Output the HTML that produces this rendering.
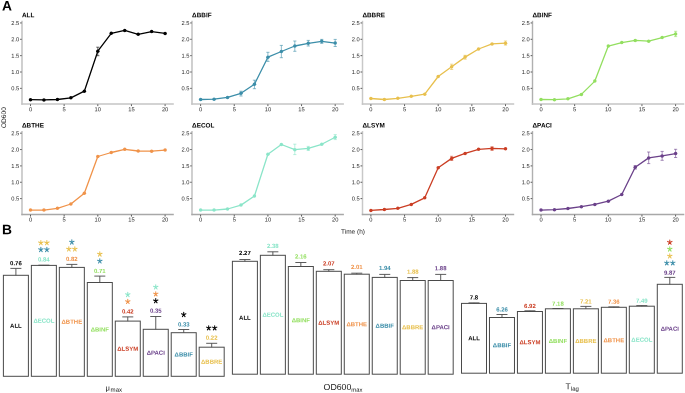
<!DOCTYPE html><html><head><meta charset="utf-8"><style>html,body{margin:0;padding:0;background:#fff;width:685px;height:393px;overflow:hidden}svg{display:block;will-change:transform}text{font-family:"Liberation Sans",sans-serif;text-rendering:geometricPrecision}</style></head><body>
<svg width="685" height="393" viewBox="0 0 685 393">
<rect width="685" height="393" fill="#fff"/>
<text transform="rotate(0.06 1.9 10.6)" x="1.9" y="10.6" font-size="13.8" font-weight="bold" fill="#000">A</text>
<text transform="rotate(0.06 1.9 234.2)" x="1.9" y="234.2" font-size="13.8" font-weight="bold" fill="#000">B</text>
<text transform="translate(5.9,117.6) rotate(-89.94)" text-anchor="middle" font-size="6.6" fill="#1a1a1a">OD600</text>
<text transform="rotate(0.06 353 233.7)" x="353" y="233.7" text-anchor="middle" font-size="6.5" fill="#1a1a1a">Time (h)</text>
<line x1="22.00" y1="20.80" x2="22.00" y2="104.80" stroke="#c4c4c4" stroke-width="1.6"/>
<line x1="21.30" y1="104.00" x2="173.80" y2="104.00" stroke="#c4c4c4" stroke-width="1.6"/>
<line x1="20.10" y1="22.95" x2="21.70" y2="22.95" stroke="#333333" stroke-width="0.8"/>
<text transform="rotate(0.06 19.30 24.95)" x="19.30" y="24.95" text-anchor="end" font-size="5.75" fill="#2a2a2a">2.5</text>
<line x1="20.10" y1="39.30" x2="21.70" y2="39.30" stroke="#333333" stroke-width="0.8"/>
<text transform="rotate(0.06 19.30 41.30)" x="19.30" y="41.30" text-anchor="end" font-size="5.75" fill="#2a2a2a">2.0</text>
<line x1="20.10" y1="55.65" x2="21.70" y2="55.65" stroke="#333333" stroke-width="0.8"/>
<text transform="rotate(0.06 19.30 57.65)" x="19.30" y="57.65" text-anchor="end" font-size="5.75" fill="#2a2a2a">1.5</text>
<line x1="20.10" y1="72.00" x2="21.70" y2="72.00" stroke="#333333" stroke-width="0.8"/>
<text transform="rotate(0.06 19.30 74.00)" x="19.30" y="74.00" text-anchor="end" font-size="5.75" fill="#2a2a2a">1.0</text>
<line x1="20.10" y1="88.35" x2="21.70" y2="88.35" stroke="#333333" stroke-width="0.8"/>
<text transform="rotate(0.06 19.30 90.35)" x="19.30" y="90.35" text-anchor="end" font-size="5.75" fill="#2a2a2a">0.5</text>
<line x1="30.50" y1="104.30" x2="30.50" y2="106.10" stroke="#333333" stroke-width="0.8"/>
<text transform="rotate(0.06 30.50 111.20)" x="30.50" y="111.20" text-anchor="middle" font-size="5.75" fill="#2a2a2a">0</text>
<line x1="64.15" y1="104.30" x2="64.15" y2="106.10" stroke="#333333" stroke-width="0.8"/>
<text transform="rotate(0.06 64.15 111.20)" x="64.15" y="111.20" text-anchor="middle" font-size="5.75" fill="#2a2a2a">5</text>
<line x1="97.80" y1="104.30" x2="97.80" y2="106.10" stroke="#333333" stroke-width="0.8"/>
<text transform="rotate(0.06 97.80 111.20)" x="97.80" y="111.20" text-anchor="middle" font-size="5.75" fill="#2a2a2a">10</text>
<line x1="131.45" y1="104.30" x2="131.45" y2="106.10" stroke="#333333" stroke-width="0.8"/>
<text transform="rotate(0.06 131.45 111.20)" x="131.45" y="111.20" text-anchor="middle" font-size="5.75" fill="#2a2a2a">15</text>
<line x1="165.10" y1="104.30" x2="165.10" y2="106.10" stroke="#333333" stroke-width="0.8"/>
<text transform="rotate(0.06 165.10 111.20)" x="165.10" y="111.20" text-anchor="middle" font-size="5.75" fill="#2a2a2a">20</text>
<text transform="rotate(0.06 22.00 17.20)" x="22.00" y="17.20" font-size="6.4" font-weight="bold" fill="#000">ALL</text>
<polyline points="30.50,99.70 43.96,99.90 57.42,99.50 70.88,97.80 84.34,91.20 97.80,51.20 111.26,33.30 124.72,30.40 138.18,34.30 151.64,31.60 165.10,33.40" fill="none" stroke="#000000" stroke-width="1.3" stroke-linejoin="round"/>
<path d="M96.20,47.20H99.40M97.80,47.20V55.70M96.20,55.70H99.40" stroke="#000000" stroke-width="0.7" fill="none" opacity="0.85"/>
<circle cx="30.50" cy="99.70" r="1.75" fill="#000000"/>
<circle cx="43.96" cy="99.90" r="1.75" fill="#000000"/>
<circle cx="57.42" cy="99.50" r="1.75" fill="#000000"/>
<circle cx="70.88" cy="97.80" r="1.75" fill="#000000"/>
<circle cx="84.34" cy="91.20" r="1.75" fill="#000000"/>
<circle cx="97.80" cy="51.20" r="1.75" fill="#000000"/>
<circle cx="111.26" cy="33.30" r="1.75" fill="#000000"/>
<circle cx="124.72" cy="30.40" r="1.75" fill="#000000"/>
<circle cx="138.18" cy="34.30" r="1.75" fill="#000000"/>
<circle cx="151.64" cy="31.60" r="1.75" fill="#000000"/>
<circle cx="165.10" cy="33.40" r="1.75" fill="#000000"/>
<line x1="192.00" y1="20.80" x2="192.00" y2="104.80" stroke="#c4c4c4" stroke-width="1.6"/>
<line x1="191.30" y1="104.00" x2="343.90" y2="104.00" stroke="#c4c4c4" stroke-width="1.6"/>
<line x1="190.20" y1="22.95" x2="191.70" y2="22.95" stroke="#333333" stroke-width="0.8"/>
<text transform="rotate(0.06 189.40 24.95)" x="189.40" y="24.95" text-anchor="end" font-size="5.75" fill="#2a2a2a">2.5</text>
<line x1="190.20" y1="39.30" x2="191.70" y2="39.30" stroke="#333333" stroke-width="0.8"/>
<text transform="rotate(0.06 189.40 41.30)" x="189.40" y="41.30" text-anchor="end" font-size="5.75" fill="#2a2a2a">2.0</text>
<line x1="190.20" y1="55.65" x2="191.70" y2="55.65" stroke="#333333" stroke-width="0.8"/>
<text transform="rotate(0.06 189.40 57.65)" x="189.40" y="57.65" text-anchor="end" font-size="5.75" fill="#2a2a2a">1.5</text>
<line x1="190.20" y1="72.00" x2="191.70" y2="72.00" stroke="#333333" stroke-width="0.8"/>
<text transform="rotate(0.06 189.40 74.00)" x="189.40" y="74.00" text-anchor="end" font-size="5.75" fill="#2a2a2a">1.0</text>
<line x1="190.20" y1="88.35" x2="191.70" y2="88.35" stroke="#333333" stroke-width="0.8"/>
<text transform="rotate(0.06 189.40 90.35)" x="189.40" y="90.35" text-anchor="end" font-size="5.75" fill="#2a2a2a">0.5</text>
<line x1="200.60" y1="104.30" x2="200.60" y2="106.10" stroke="#333333" stroke-width="0.8"/>
<text transform="rotate(0.06 200.60 111.20)" x="200.60" y="111.20" text-anchor="middle" font-size="5.75" fill="#2a2a2a">0</text>
<line x1="234.25" y1="104.30" x2="234.25" y2="106.10" stroke="#333333" stroke-width="0.8"/>
<text transform="rotate(0.06 234.25 111.20)" x="234.25" y="111.20" text-anchor="middle" font-size="5.75" fill="#2a2a2a">5</text>
<line x1="267.90" y1="104.30" x2="267.90" y2="106.10" stroke="#333333" stroke-width="0.8"/>
<text transform="rotate(0.06 267.90 111.20)" x="267.90" y="111.20" text-anchor="middle" font-size="5.75" fill="#2a2a2a">10</text>
<line x1="301.55" y1="104.30" x2="301.55" y2="106.10" stroke="#333333" stroke-width="0.8"/>
<text transform="rotate(0.06 301.55 111.20)" x="301.55" y="111.20" text-anchor="middle" font-size="5.75" fill="#2a2a2a">15</text>
<line x1="335.20" y1="104.30" x2="335.20" y2="106.10" stroke="#333333" stroke-width="0.8"/>
<text transform="rotate(0.06 335.20 111.20)" x="335.20" y="111.20" text-anchor="middle" font-size="5.75" fill="#2a2a2a">20</text>
<text transform="rotate(0.06 192.10 17.20)" x="192.10" y="17.20" font-size="6.4" font-weight="bold" fill="#000">ΔBBIF</text>
<polyline points="200.60,99.50 214.06,99.20 227.52,97.40 240.98,93.30 254.44,84.30 267.90,57.20 281.36,51.50 294.82,46.00 308.28,43.30 321.74,41.30 335.20,43.10" fill="none" stroke="#3c8ea9" stroke-width="1.3" stroke-linejoin="round"/>
<path d="M239.38,91.20H242.58M240.98,91.20V96.00M239.38,96.00H242.58" stroke="#3c8ea9" stroke-width="0.7" fill="none" opacity="0.85"/>
<path d="M252.84,80.20H256.04M254.44,80.20V88.70M252.84,88.70H256.04" stroke="#3c8ea9" stroke-width="0.7" fill="none" opacity="0.85"/>
<path d="M266.30,52.30H269.50M267.90,52.30V61.40M266.30,61.40H269.50" stroke="#3c8ea9" stroke-width="0.7" fill="none" opacity="0.85"/>
<path d="M279.76,45.40H282.96M281.36,45.40V57.70M279.76,57.70H282.96" stroke="#3c8ea9" stroke-width="0.7" fill="none" opacity="0.85"/>
<path d="M293.22,41.00H296.42M294.82,41.00V51.30M293.22,51.30H296.42" stroke="#3c8ea9" stroke-width="0.7" fill="none" opacity="0.85"/>
<path d="M306.68,40.40H309.88M308.28,40.40V46.00M306.68,46.00H309.88" stroke="#3c8ea9" stroke-width="0.7" fill="none" opacity="0.85"/>
<path d="M320.14,39.40H323.34M321.74,39.40V43.40M320.14,43.40H323.34" stroke="#3c8ea9" stroke-width="0.7" fill="none" opacity="0.85"/>
<path d="M333.60,39.40H336.80M335.20,39.40V46.50M333.60,46.50H336.80" stroke="#3c8ea9" stroke-width="0.7" fill="none" opacity="0.85"/>
<circle cx="200.60" cy="99.50" r="1.75" fill="#3c8ea9"/>
<circle cx="214.06" cy="99.20" r="1.75" fill="#3c8ea9"/>
<circle cx="227.52" cy="97.40" r="1.75" fill="#3c8ea9"/>
<circle cx="240.98" cy="93.30" r="1.75" fill="#3c8ea9"/>
<circle cx="254.44" cy="84.30" r="1.75" fill="#3c8ea9"/>
<circle cx="267.90" cy="57.20" r="1.75" fill="#3c8ea9"/>
<circle cx="281.36" cy="51.50" r="1.75" fill="#3c8ea9"/>
<circle cx="294.82" cy="46.00" r="1.75" fill="#3c8ea9"/>
<circle cx="308.28" cy="43.30" r="1.75" fill="#3c8ea9"/>
<circle cx="321.74" cy="41.30" r="1.75" fill="#3c8ea9"/>
<circle cx="335.20" cy="43.10" r="1.75" fill="#3c8ea9"/>
<line x1="362.50" y1="20.80" x2="362.50" y2="104.80" stroke="#c8c8c8" stroke-width="1.5"/>
<line x1="361.80" y1="104.00" x2="514.20" y2="104.00" stroke="#c4c4c4" stroke-width="1.6"/>
<line x1="360.50" y1="22.95" x2="362.20" y2="22.95" stroke="#333333" stroke-width="0.8"/>
<text transform="rotate(0.06 359.70 24.95)" x="359.70" y="24.95" text-anchor="end" font-size="5.75" fill="#2a2a2a">2.5</text>
<line x1="360.50" y1="39.30" x2="362.20" y2="39.30" stroke="#333333" stroke-width="0.8"/>
<text transform="rotate(0.06 359.70 41.30)" x="359.70" y="41.30" text-anchor="end" font-size="5.75" fill="#2a2a2a">2.0</text>
<line x1="360.50" y1="55.65" x2="362.20" y2="55.65" stroke="#333333" stroke-width="0.8"/>
<text transform="rotate(0.06 359.70 57.65)" x="359.70" y="57.65" text-anchor="end" font-size="5.75" fill="#2a2a2a">1.5</text>
<line x1="360.50" y1="72.00" x2="362.20" y2="72.00" stroke="#333333" stroke-width="0.8"/>
<text transform="rotate(0.06 359.70 74.00)" x="359.70" y="74.00" text-anchor="end" font-size="5.75" fill="#2a2a2a">1.0</text>
<line x1="360.50" y1="88.35" x2="362.20" y2="88.35" stroke="#333333" stroke-width="0.8"/>
<text transform="rotate(0.06 359.70 90.35)" x="359.70" y="90.35" text-anchor="end" font-size="5.75" fill="#2a2a2a">0.5</text>
<line x1="370.90" y1="104.30" x2="370.90" y2="106.10" stroke="#333333" stroke-width="0.8"/>
<text transform="rotate(0.06 370.90 111.20)" x="370.90" y="111.20" text-anchor="middle" font-size="5.75" fill="#2a2a2a">0</text>
<line x1="404.55" y1="104.30" x2="404.55" y2="106.10" stroke="#333333" stroke-width="0.8"/>
<text transform="rotate(0.06 404.55 111.20)" x="404.55" y="111.20" text-anchor="middle" font-size="5.75" fill="#2a2a2a">5</text>
<line x1="438.20" y1="104.30" x2="438.20" y2="106.10" stroke="#333333" stroke-width="0.8"/>
<text transform="rotate(0.06 438.20 111.20)" x="438.20" y="111.20" text-anchor="middle" font-size="5.75" fill="#2a2a2a">10</text>
<line x1="471.85" y1="104.30" x2="471.85" y2="106.10" stroke="#333333" stroke-width="0.8"/>
<text transform="rotate(0.06 471.85 111.20)" x="471.85" y="111.20" text-anchor="middle" font-size="5.75" fill="#2a2a2a">15</text>
<line x1="505.50" y1="104.30" x2="505.50" y2="106.10" stroke="#333333" stroke-width="0.8"/>
<text transform="rotate(0.06 505.50 111.20)" x="505.50" y="111.20" text-anchor="middle" font-size="5.75" fill="#2a2a2a">20</text>
<text transform="rotate(0.06 362.40 17.20)" x="362.40" y="17.20" font-size="6.4" font-weight="bold" fill="#000">ΔBBRE</text>
<polyline points="370.90,98.50 384.36,99.50 397.82,98.30 411.28,96.30 424.74,94.20 438.20,76.50 451.66,66.70 465.12,57.10 478.58,49.00 492.04,43.90 505.50,43.20" fill="none" stroke="#e8c04e" stroke-width="1.3" stroke-linejoin="round"/>
<path d="M450.06,64.20H453.26M451.66,64.20V69.50M450.06,69.50H453.26" stroke="#e8c04e" stroke-width="0.7" fill="none" opacity="0.85"/>
<path d="M463.52,55.30H466.72M465.12,55.30V59.20M463.52,59.20H466.72" stroke="#e8c04e" stroke-width="0.7" fill="none" opacity="0.85"/>
<path d="M503.90,41.00H507.10M505.50,41.00V45.10M503.90,45.10H507.10" stroke="#e8c04e" stroke-width="0.7" fill="none" opacity="0.85"/>
<circle cx="370.90" cy="98.50" r="1.75" fill="#e8c04e"/>
<circle cx="384.36" cy="99.50" r="1.75" fill="#e8c04e"/>
<circle cx="397.82" cy="98.30" r="1.75" fill="#e8c04e"/>
<circle cx="411.28" cy="96.30" r="1.75" fill="#e8c04e"/>
<circle cx="424.74" cy="94.20" r="1.75" fill="#e8c04e"/>
<circle cx="438.20" cy="76.50" r="1.75" fill="#e8c04e"/>
<circle cx="451.66" cy="66.70" r="1.75" fill="#e8c04e"/>
<circle cx="465.12" cy="57.10" r="1.75" fill="#e8c04e"/>
<circle cx="478.58" cy="49.00" r="1.75" fill="#e8c04e"/>
<circle cx="492.04" cy="43.90" r="1.75" fill="#e8c04e"/>
<circle cx="505.50" cy="43.20" r="1.75" fill="#e8c04e"/>
<line x1="532.50" y1="20.80" x2="532.50" y2="104.80" stroke="#b0b0b0" stroke-width="1.4"/>
<line x1="531.80" y1="104.00" x2="684.30" y2="104.00" stroke="#c4c4c4" stroke-width="1.6"/>
<line x1="530.60" y1="22.95" x2="532.20" y2="22.95" stroke="#333333" stroke-width="0.8"/>
<text transform="rotate(0.06 529.80 24.95)" x="529.80" y="24.95" text-anchor="end" font-size="5.75" fill="#2a2a2a">2.5</text>
<line x1="530.60" y1="39.30" x2="532.20" y2="39.30" stroke="#333333" stroke-width="0.8"/>
<text transform="rotate(0.06 529.80 41.30)" x="529.80" y="41.30" text-anchor="end" font-size="5.75" fill="#2a2a2a">2.0</text>
<line x1="530.60" y1="55.65" x2="532.20" y2="55.65" stroke="#333333" stroke-width="0.8"/>
<text transform="rotate(0.06 529.80 57.65)" x="529.80" y="57.65" text-anchor="end" font-size="5.75" fill="#2a2a2a">1.5</text>
<line x1="530.60" y1="72.00" x2="532.20" y2="72.00" stroke="#333333" stroke-width="0.8"/>
<text transform="rotate(0.06 529.80 74.00)" x="529.80" y="74.00" text-anchor="end" font-size="5.75" fill="#2a2a2a">1.0</text>
<line x1="530.60" y1="88.35" x2="532.20" y2="88.35" stroke="#333333" stroke-width="0.8"/>
<text transform="rotate(0.06 529.80 90.35)" x="529.80" y="90.35" text-anchor="end" font-size="5.75" fill="#2a2a2a">0.5</text>
<line x1="541.00" y1="104.30" x2="541.00" y2="106.10" stroke="#333333" stroke-width="0.8"/>
<text transform="rotate(0.06 541.00 111.20)" x="541.00" y="111.20" text-anchor="middle" font-size="5.75" fill="#2a2a2a">0</text>
<line x1="574.65" y1="104.30" x2="574.65" y2="106.10" stroke="#333333" stroke-width="0.8"/>
<text transform="rotate(0.06 574.65 111.20)" x="574.65" y="111.20" text-anchor="middle" font-size="5.75" fill="#2a2a2a">5</text>
<line x1="608.30" y1="104.30" x2="608.30" y2="106.10" stroke="#333333" stroke-width="0.8"/>
<text transform="rotate(0.06 608.30 111.20)" x="608.30" y="111.20" text-anchor="middle" font-size="5.75" fill="#2a2a2a">10</text>
<line x1="641.95" y1="104.30" x2="641.95" y2="106.10" stroke="#333333" stroke-width="0.8"/>
<text transform="rotate(0.06 641.95 111.20)" x="641.95" y="111.20" text-anchor="middle" font-size="5.75" fill="#2a2a2a">15</text>
<line x1="675.60" y1="104.30" x2="675.60" y2="106.10" stroke="#333333" stroke-width="0.8"/>
<text transform="rotate(0.06 675.60 111.20)" x="675.60" y="111.20" text-anchor="middle" font-size="5.75" fill="#2a2a2a">20</text>
<text transform="rotate(0.06 532.50 17.20)" x="532.50" y="17.20" font-size="6.4" font-weight="bold" fill="#000">ΔBINF</text>
<polyline points="541.00,99.50 554.46,99.70 567.92,98.80 581.38,94.40 594.84,81.10 608.30,46.10 621.76,42.60 635.22,40.40 648.68,41.20 662.14,37.60 675.60,33.90" fill="none" stroke="#93df60" stroke-width="1.3" stroke-linejoin="round"/>
<path d="M674.00,31.30H677.20M675.60,31.30V36.60M674.00,36.60H677.20" stroke="#93df60" stroke-width="0.7" fill="none" opacity="0.85"/>
<circle cx="541.00" cy="99.50" r="1.75" fill="#93df60"/>
<circle cx="554.46" cy="99.70" r="1.75" fill="#93df60"/>
<circle cx="567.92" cy="98.80" r="1.75" fill="#93df60"/>
<circle cx="581.38" cy="94.40" r="1.75" fill="#93df60"/>
<circle cx="594.84" cy="81.10" r="1.75" fill="#93df60"/>
<circle cx="608.30" cy="46.10" r="1.75" fill="#93df60"/>
<circle cx="621.76" cy="42.60" r="1.75" fill="#93df60"/>
<circle cx="635.22" cy="40.40" r="1.75" fill="#93df60"/>
<circle cx="648.68" cy="41.20" r="1.75" fill="#93df60"/>
<circle cx="662.14" cy="37.60" r="1.75" fill="#93df60"/>
<circle cx="675.60" cy="33.90" r="1.75" fill="#93df60"/>
<line x1="22.00" y1="131.05" x2="22.00" y2="215.20" stroke="#c4c4c4" stroke-width="1.6"/>
<line x1="21.30" y1="214.50" x2="173.80" y2="214.50" stroke="#a8a8a8" stroke-width="1.4"/>
<line x1="20.10" y1="133.20" x2="21.70" y2="133.20" stroke="#333333" stroke-width="0.8"/>
<text transform="rotate(0.06 19.30 135.20)" x="19.30" y="135.20" text-anchor="end" font-size="5.75" fill="#2a2a2a">2.5</text>
<line x1="20.10" y1="149.55" x2="21.70" y2="149.55" stroke="#333333" stroke-width="0.8"/>
<text transform="rotate(0.06 19.30 151.55)" x="19.30" y="151.55" text-anchor="end" font-size="5.75" fill="#2a2a2a">2.0</text>
<line x1="20.10" y1="165.90" x2="21.70" y2="165.90" stroke="#333333" stroke-width="0.8"/>
<text transform="rotate(0.06 19.30 167.90)" x="19.30" y="167.90" text-anchor="end" font-size="5.75" fill="#2a2a2a">1.5</text>
<line x1="20.10" y1="182.25" x2="21.70" y2="182.25" stroke="#333333" stroke-width="0.8"/>
<text transform="rotate(0.06 19.30 184.25)" x="19.30" y="184.25" text-anchor="end" font-size="5.75" fill="#2a2a2a">1.0</text>
<line x1="20.10" y1="198.60" x2="21.70" y2="198.60" stroke="#333333" stroke-width="0.8"/>
<text transform="rotate(0.06 19.30 200.60)" x="19.30" y="200.60" text-anchor="end" font-size="5.75" fill="#2a2a2a">0.5</text>
<line x1="30.50" y1="214.80" x2="30.50" y2="216.60" stroke="#333333" stroke-width="0.8"/>
<text transform="rotate(0.06 30.50 221.45)" x="30.50" y="221.45" text-anchor="middle" font-size="5.75" fill="#2a2a2a">0</text>
<line x1="64.15" y1="214.80" x2="64.15" y2="216.60" stroke="#333333" stroke-width="0.8"/>
<text transform="rotate(0.06 64.15 221.45)" x="64.15" y="221.45" text-anchor="middle" font-size="5.75" fill="#2a2a2a">5</text>
<line x1="97.80" y1="214.80" x2="97.80" y2="216.60" stroke="#333333" stroke-width="0.8"/>
<text transform="rotate(0.06 97.80 221.45)" x="97.80" y="221.45" text-anchor="middle" font-size="5.75" fill="#2a2a2a">10</text>
<line x1="131.45" y1="214.80" x2="131.45" y2="216.60" stroke="#333333" stroke-width="0.8"/>
<text transform="rotate(0.06 131.45 221.45)" x="131.45" y="221.45" text-anchor="middle" font-size="5.75" fill="#2a2a2a">15</text>
<line x1="165.10" y1="214.80" x2="165.10" y2="216.60" stroke="#333333" stroke-width="0.8"/>
<text transform="rotate(0.06 165.10 221.45)" x="165.10" y="221.45" text-anchor="middle" font-size="5.75" fill="#2a2a2a">20</text>
<text transform="rotate(0.06 22.00 127.45)" x="22.00" y="127.45" font-size="6.4" font-weight="bold" fill="#000">ΔBTHE</text>
<polyline points="30.50,210.10 43.96,210.10 57.42,208.30 70.88,204.00 84.34,193.20 97.80,156.50 111.26,152.50 124.72,149.30 138.18,151.00 151.64,151.20 165.10,150.10" fill="none" stroke="#f0934a" stroke-width="1.3" stroke-linejoin="round"/>
<circle cx="30.50" cy="210.10" r="1.75" fill="#f0934a"/>
<circle cx="43.96" cy="210.10" r="1.75" fill="#f0934a"/>
<circle cx="57.42" cy="208.30" r="1.75" fill="#f0934a"/>
<circle cx="70.88" cy="204.00" r="1.75" fill="#f0934a"/>
<circle cx="84.34" cy="193.20" r="1.75" fill="#f0934a"/>
<circle cx="97.80" cy="156.50" r="1.75" fill="#f0934a"/>
<circle cx="111.26" cy="152.50" r="1.75" fill="#f0934a"/>
<circle cx="124.72" cy="149.30" r="1.75" fill="#f0934a"/>
<circle cx="138.18" cy="151.00" r="1.75" fill="#f0934a"/>
<circle cx="151.64" cy="151.20" r="1.75" fill="#f0934a"/>
<circle cx="165.10" cy="150.10" r="1.75" fill="#f0934a"/>
<line x1="192.00" y1="131.05" x2="192.00" y2="215.20" stroke="#c4c4c4" stroke-width="1.6"/>
<line x1="191.30" y1="214.50" x2="343.90" y2="214.50" stroke="#a8a8a8" stroke-width="1.4"/>
<line x1="190.20" y1="133.20" x2="191.70" y2="133.20" stroke="#333333" stroke-width="0.8"/>
<text transform="rotate(0.06 189.40 135.20)" x="189.40" y="135.20" text-anchor="end" font-size="5.75" fill="#2a2a2a">2.5</text>
<line x1="190.20" y1="149.55" x2="191.70" y2="149.55" stroke="#333333" stroke-width="0.8"/>
<text transform="rotate(0.06 189.40 151.55)" x="189.40" y="151.55" text-anchor="end" font-size="5.75" fill="#2a2a2a">2.0</text>
<line x1="190.20" y1="165.90" x2="191.70" y2="165.90" stroke="#333333" stroke-width="0.8"/>
<text transform="rotate(0.06 189.40 167.90)" x="189.40" y="167.90" text-anchor="end" font-size="5.75" fill="#2a2a2a">1.5</text>
<line x1="190.20" y1="182.25" x2="191.70" y2="182.25" stroke="#333333" stroke-width="0.8"/>
<text transform="rotate(0.06 189.40 184.25)" x="189.40" y="184.25" text-anchor="end" font-size="5.75" fill="#2a2a2a">1.0</text>
<line x1="190.20" y1="198.60" x2="191.70" y2="198.60" stroke="#333333" stroke-width="0.8"/>
<text transform="rotate(0.06 189.40 200.60)" x="189.40" y="200.60" text-anchor="end" font-size="5.75" fill="#2a2a2a">0.5</text>
<line x1="200.60" y1="214.80" x2="200.60" y2="216.60" stroke="#333333" stroke-width="0.8"/>
<text transform="rotate(0.06 200.60 221.45)" x="200.60" y="221.45" text-anchor="middle" font-size="5.75" fill="#2a2a2a">0</text>
<line x1="234.25" y1="214.80" x2="234.25" y2="216.60" stroke="#333333" stroke-width="0.8"/>
<text transform="rotate(0.06 234.25 221.45)" x="234.25" y="221.45" text-anchor="middle" font-size="5.75" fill="#2a2a2a">5</text>
<line x1="267.90" y1="214.80" x2="267.90" y2="216.60" stroke="#333333" stroke-width="0.8"/>
<text transform="rotate(0.06 267.90 221.45)" x="267.90" y="221.45" text-anchor="middle" font-size="5.75" fill="#2a2a2a">10</text>
<line x1="301.55" y1="214.80" x2="301.55" y2="216.60" stroke="#333333" stroke-width="0.8"/>
<text transform="rotate(0.06 301.55 221.45)" x="301.55" y="221.45" text-anchor="middle" font-size="5.75" fill="#2a2a2a">15</text>
<line x1="335.20" y1="214.80" x2="335.20" y2="216.60" stroke="#333333" stroke-width="0.8"/>
<text transform="rotate(0.06 335.20 221.45)" x="335.20" y="221.45" text-anchor="middle" font-size="5.75" fill="#2a2a2a">20</text>
<text transform="rotate(0.06 192.10 127.45)" x="192.10" y="127.45" font-size="6.4" font-weight="bold" fill="#000">ΔECOL</text>
<polyline points="200.60,210.10 214.06,210.10 227.52,209.00 240.98,205.10 254.44,196.00 267.90,154.20 281.36,144.50 294.82,149.70 308.28,148.40 321.74,144.30 335.20,137.20" fill="none" stroke="#8be5c9" stroke-width="1.3" stroke-linejoin="round"/>
<path d="M293.22,144.20H296.42M294.82,144.20V154.60M293.22,154.60H296.42" stroke="#8be5c9" stroke-width="0.7" fill="none" opacity="0.85"/>
<path d="M306.68,146.40H309.88M308.28,146.40V150.50M306.68,150.50H309.88" stroke="#8be5c9" stroke-width="0.7" fill="none" opacity="0.85"/>
<path d="M333.60,134.60H336.80M335.20,134.60V139.60M333.60,139.60H336.80" stroke="#8be5c9" stroke-width="0.7" fill="none" opacity="0.85"/>
<circle cx="200.60" cy="210.10" r="1.75" fill="#8be5c9"/>
<circle cx="214.06" cy="210.10" r="1.75" fill="#8be5c9"/>
<circle cx="227.52" cy="209.00" r="1.75" fill="#8be5c9"/>
<circle cx="240.98" cy="205.10" r="1.75" fill="#8be5c9"/>
<circle cx="254.44" cy="196.00" r="1.75" fill="#8be5c9"/>
<circle cx="267.90" cy="154.20" r="1.75" fill="#8be5c9"/>
<circle cx="281.36" cy="144.50" r="1.75" fill="#8be5c9"/>
<circle cx="294.82" cy="149.70" r="1.75" fill="#8be5c9"/>
<circle cx="308.28" cy="148.40" r="1.75" fill="#8be5c9"/>
<circle cx="321.74" cy="144.30" r="1.75" fill="#8be5c9"/>
<circle cx="335.20" cy="137.20" r="1.75" fill="#8be5c9"/>
<line x1="362.50" y1="131.05" x2="362.50" y2="215.20" stroke="#c8c8c8" stroke-width="1.5"/>
<line x1="361.80" y1="214.50" x2="514.20" y2="214.50" stroke="#a8a8a8" stroke-width="1.4"/>
<line x1="360.50" y1="133.20" x2="362.20" y2="133.20" stroke="#333333" stroke-width="0.8"/>
<text transform="rotate(0.06 359.70 135.20)" x="359.70" y="135.20" text-anchor="end" font-size="5.75" fill="#2a2a2a">2.5</text>
<line x1="360.50" y1="149.55" x2="362.20" y2="149.55" stroke="#333333" stroke-width="0.8"/>
<text transform="rotate(0.06 359.70 151.55)" x="359.70" y="151.55" text-anchor="end" font-size="5.75" fill="#2a2a2a">2.0</text>
<line x1="360.50" y1="165.90" x2="362.20" y2="165.90" stroke="#333333" stroke-width="0.8"/>
<text transform="rotate(0.06 359.70 167.90)" x="359.70" y="167.90" text-anchor="end" font-size="5.75" fill="#2a2a2a">1.5</text>
<line x1="360.50" y1="182.25" x2="362.20" y2="182.25" stroke="#333333" stroke-width="0.8"/>
<text transform="rotate(0.06 359.70 184.25)" x="359.70" y="184.25" text-anchor="end" font-size="5.75" fill="#2a2a2a">1.0</text>
<line x1="360.50" y1="198.60" x2="362.20" y2="198.60" stroke="#333333" stroke-width="0.8"/>
<text transform="rotate(0.06 359.70 200.60)" x="359.70" y="200.60" text-anchor="end" font-size="5.75" fill="#2a2a2a">0.5</text>
<line x1="370.90" y1="214.80" x2="370.90" y2="216.60" stroke="#333333" stroke-width="0.8"/>
<text transform="rotate(0.06 370.90 221.45)" x="370.90" y="221.45" text-anchor="middle" font-size="5.75" fill="#2a2a2a">0</text>
<line x1="404.55" y1="214.80" x2="404.55" y2="216.60" stroke="#333333" stroke-width="0.8"/>
<text transform="rotate(0.06 404.55 221.45)" x="404.55" y="221.45" text-anchor="middle" font-size="5.75" fill="#2a2a2a">5</text>
<line x1="438.20" y1="214.80" x2="438.20" y2="216.60" stroke="#333333" stroke-width="0.8"/>
<text transform="rotate(0.06 438.20 221.45)" x="438.20" y="221.45" text-anchor="middle" font-size="5.75" fill="#2a2a2a">10</text>
<line x1="471.85" y1="214.80" x2="471.85" y2="216.60" stroke="#333333" stroke-width="0.8"/>
<text transform="rotate(0.06 471.85 221.45)" x="471.85" y="221.45" text-anchor="middle" font-size="5.75" fill="#2a2a2a">15</text>
<line x1="505.50" y1="214.80" x2="505.50" y2="216.60" stroke="#333333" stroke-width="0.8"/>
<text transform="rotate(0.06 505.50 221.45)" x="505.50" y="221.45" text-anchor="middle" font-size="5.75" fill="#2a2a2a">20</text>
<text transform="rotate(0.06 362.40 127.45)" x="362.40" y="127.45" font-size="6.4" font-weight="bold" fill="#000">ΔLSYM</text>
<polyline points="370.90,210.40 384.36,209.50 397.82,208.30 411.28,204.40 424.74,197.80 438.20,167.70 451.66,158.40 465.12,153.40 478.58,149.30 492.04,148.40 505.50,148.80" fill="none" stroke="#cb3e24" stroke-width="1.3" stroke-linejoin="round"/>
<path d="M450.06,156.30H453.26M451.66,156.30V160.50M450.06,160.50H453.26" stroke="#cb3e24" stroke-width="0.7" fill="none" opacity="0.85"/>
<path d="M490.44,146.80H493.64M492.04,146.80V150.40M490.44,150.40H493.64" stroke="#cb3e24" stroke-width="0.7" fill="none" opacity="0.85"/>
<circle cx="370.90" cy="210.40" r="1.75" fill="#cb3e24"/>
<circle cx="384.36" cy="209.50" r="1.75" fill="#cb3e24"/>
<circle cx="397.82" cy="208.30" r="1.75" fill="#cb3e24"/>
<circle cx="411.28" cy="204.40" r="1.75" fill="#cb3e24"/>
<circle cx="424.74" cy="197.80" r="1.75" fill="#cb3e24"/>
<circle cx="438.20" cy="167.70" r="1.75" fill="#cb3e24"/>
<circle cx="451.66" cy="158.40" r="1.75" fill="#cb3e24"/>
<circle cx="465.12" cy="153.40" r="1.75" fill="#cb3e24"/>
<circle cx="478.58" cy="149.30" r="1.75" fill="#cb3e24"/>
<circle cx="492.04" cy="148.40" r="1.75" fill="#cb3e24"/>
<circle cx="505.50" cy="148.80" r="1.75" fill="#cb3e24"/>
<line x1="532.50" y1="131.05" x2="532.50" y2="215.20" stroke="#b0b0b0" stroke-width="1.4"/>
<line x1="531.80" y1="214.50" x2="684.30" y2="214.50" stroke="#a8a8a8" stroke-width="1.4"/>
<line x1="530.60" y1="133.20" x2="532.20" y2="133.20" stroke="#333333" stroke-width="0.8"/>
<text transform="rotate(0.06 529.80 135.20)" x="529.80" y="135.20" text-anchor="end" font-size="5.75" fill="#2a2a2a">2.5</text>
<line x1="530.60" y1="149.55" x2="532.20" y2="149.55" stroke="#333333" stroke-width="0.8"/>
<text transform="rotate(0.06 529.80 151.55)" x="529.80" y="151.55" text-anchor="end" font-size="5.75" fill="#2a2a2a">2.0</text>
<line x1="530.60" y1="165.90" x2="532.20" y2="165.90" stroke="#333333" stroke-width="0.8"/>
<text transform="rotate(0.06 529.80 167.90)" x="529.80" y="167.90" text-anchor="end" font-size="5.75" fill="#2a2a2a">1.5</text>
<line x1="530.60" y1="182.25" x2="532.20" y2="182.25" stroke="#333333" stroke-width="0.8"/>
<text transform="rotate(0.06 529.80 184.25)" x="529.80" y="184.25" text-anchor="end" font-size="5.75" fill="#2a2a2a">1.0</text>
<line x1="530.60" y1="198.60" x2="532.20" y2="198.60" stroke="#333333" stroke-width="0.8"/>
<text transform="rotate(0.06 529.80 200.60)" x="529.80" y="200.60" text-anchor="end" font-size="5.75" fill="#2a2a2a">0.5</text>
<line x1="541.00" y1="214.80" x2="541.00" y2="216.60" stroke="#333333" stroke-width="0.8"/>
<text transform="rotate(0.06 541.00 221.45)" x="541.00" y="221.45" text-anchor="middle" font-size="5.75" fill="#2a2a2a">0</text>
<line x1="574.65" y1="214.80" x2="574.65" y2="216.60" stroke="#333333" stroke-width="0.8"/>
<text transform="rotate(0.06 574.65 221.45)" x="574.65" y="221.45" text-anchor="middle" font-size="5.75" fill="#2a2a2a">5</text>
<line x1="608.30" y1="214.80" x2="608.30" y2="216.60" stroke="#333333" stroke-width="0.8"/>
<text transform="rotate(0.06 608.30 221.45)" x="608.30" y="221.45" text-anchor="middle" font-size="5.75" fill="#2a2a2a">10</text>
<line x1="641.95" y1="214.80" x2="641.95" y2="216.60" stroke="#333333" stroke-width="0.8"/>
<text transform="rotate(0.06 641.95 221.45)" x="641.95" y="221.45" text-anchor="middle" font-size="5.75" fill="#2a2a2a">15</text>
<line x1="675.60" y1="214.80" x2="675.60" y2="216.60" stroke="#333333" stroke-width="0.8"/>
<text transform="rotate(0.06 675.60 221.45)" x="675.60" y="221.45" text-anchor="middle" font-size="5.75" fill="#2a2a2a">20</text>
<text transform="rotate(0.06 532.50 127.45)" x="532.50" y="127.45" font-size="6.4" font-weight="bold" fill="#000">ΔPACI</text>
<polyline points="541.00,210.10 554.46,209.70 567.92,208.50 581.38,206.70 594.84,204.40 608.30,201.20 621.76,194.50 635.22,167.30 648.68,157.90 662.14,155.90 675.60,153.60" fill="none" stroke="#6b418a" stroke-width="1.3" stroke-linejoin="round"/>
<path d="M633.62,165.60H636.82M635.22,165.60V169.10M633.62,169.10H636.82" stroke="#6b418a" stroke-width="0.7" fill="none" opacity="0.85"/>
<path d="M647.08,152.00H650.28M648.68,152.00V163.60M647.08,163.60H650.28" stroke="#6b418a" stroke-width="0.7" fill="none" opacity="0.85"/>
<path d="M660.54,151.40H663.74M662.14,151.40V160.30M660.54,160.30H663.74" stroke="#6b418a" stroke-width="0.7" fill="none" opacity="0.85"/>
<path d="M674.00,149.30H677.20M675.60,149.30V157.50M674.00,157.50H677.20" stroke="#6b418a" stroke-width="0.7" fill="none" opacity="0.85"/>
<circle cx="541.00" cy="210.10" r="1.75" fill="#6b418a"/>
<circle cx="554.46" cy="209.70" r="1.75" fill="#6b418a"/>
<circle cx="567.92" cy="208.50" r="1.75" fill="#6b418a"/>
<circle cx="581.38" cy="206.70" r="1.75" fill="#6b418a"/>
<circle cx="594.84" cy="204.40" r="1.75" fill="#6b418a"/>
<circle cx="608.30" cy="201.20" r="1.75" fill="#6b418a"/>
<circle cx="621.76" cy="194.50" r="1.75" fill="#6b418a"/>
<circle cx="635.22" cy="167.30" r="1.75" fill="#6b418a"/>
<circle cx="648.68" cy="157.90" r="1.75" fill="#6b418a"/>
<circle cx="662.14" cy="155.90" r="1.75" fill="#6b418a"/>
<circle cx="675.60" cy="153.60" r="1.75" fill="#6b418a"/>
<rect x="3.40" y="275.30" width="25.0" height="101.00" fill="#fff" stroke="#4a4a4a" stroke-width="1"/>
<line x1="15.90" y1="268.40" x2="15.90" y2="275.30" stroke="#4a4a4a" stroke-width="0.9"/>
<line x1="10.40" y1="268.40" x2="21.40" y2="268.40" stroke="#4a4a4a" stroke-width="0.9"/>
<text transform="rotate(0.06 15.90 265.20)" x="15.90" y="265.20" text-anchor="middle" font-size="6.0" font-weight="bold" fill="#000000">0.76</text>
<text transform="rotate(0.06 15.90 327.80)" x="15.90" y="327.80" text-anchor="middle" font-size="6.0" font-weight="bold" fill="#000000">ALL</text>
<rect x="31.37" y="265.40" width="25.0" height="110.90" fill="#fff" stroke="#4a4a4a" stroke-width="1"/>
<line x1="38.37" y1="265.20" x2="49.37" y2="265.20" stroke="#4a4a4a" stroke-width="0.9"/>
<text transform="rotate(0.06 43.87 261.50)" x="43.87" y="261.50" text-anchor="middle" font-size="6.0" font-weight="bold" fill="#8be5c9">0.84</text>
<text transform="rotate(0.06 43.87 322.85)" x="43.87" y="322.85" text-anchor="middle" font-size="6.0" font-weight="bold" fill="#8be5c9">ΔECOL</text>
<path d="M40.87,249.80L40.87,247.35M40.87,249.80L43.06,248.82M40.87,249.80L38.68,248.82M40.87,249.80L42.19,251.62M40.87,249.80L39.55,251.62" stroke="#3c8ea9" stroke-width="1.05" stroke-linecap="round" fill="none"/>
<path d="M46.87,249.80L46.87,247.35M46.87,249.80L49.06,248.82M46.87,249.80L44.68,248.82M46.87,249.80L48.19,251.62M46.87,249.80L45.55,251.62" stroke="#3c8ea9" stroke-width="1.05" stroke-linecap="round" fill="none"/>
<path d="M40.87,242.90L40.87,240.45M40.87,242.90L43.06,241.92M40.87,242.90L38.68,241.92M40.87,242.90L42.19,244.72M40.87,242.90L39.55,244.72" stroke="#e8c04e" stroke-width="1.05" stroke-linecap="round" fill="none"/>
<path d="M46.87,242.90L46.87,240.45M46.87,242.90L49.06,241.92M46.87,242.90L44.68,241.92M46.87,242.90L48.19,244.72M46.87,242.90L45.55,244.72" stroke="#e8c04e" stroke-width="1.05" stroke-linecap="round" fill="none"/>
<rect x="59.34" y="267.40" width="25.0" height="108.90" fill="#fff" stroke="#4a4a4a" stroke-width="1"/>
<line x1="71.84" y1="264.40" x2="71.84" y2="267.40" stroke="#4a4a4a" stroke-width="0.9"/>
<line x1="66.34" y1="264.40" x2="77.34" y2="264.40" stroke="#4a4a4a" stroke-width="0.9"/>
<text transform="rotate(0.06 71.84 260.90)" x="71.84" y="260.90" text-anchor="middle" font-size="6.0" font-weight="bold" fill="#f0934a">0.82</text>
<text transform="rotate(0.06 71.84 323.85)" x="71.84" y="323.85" text-anchor="middle" font-size="6.0" font-weight="bold" fill="#f0934a">ΔBTHE</text>
<path d="M68.84,249.20L68.84,246.75M68.84,249.20L71.03,248.22M68.84,249.20L66.65,248.22M68.84,249.20L70.16,251.02M68.84,249.20L67.52,251.02" stroke="#e8c04e" stroke-width="1.05" stroke-linecap="round" fill="none"/>
<path d="M74.84,249.20L74.84,246.75M74.84,249.20L77.03,248.22M74.84,249.20L72.65,248.22M74.84,249.20L76.16,251.02M74.84,249.20L73.52,251.02" stroke="#e8c04e" stroke-width="1.05" stroke-linecap="round" fill="none"/>
<path d="M71.84,242.30L71.84,239.85M71.84,242.30L74.03,241.32M71.84,242.30L69.65,241.32M71.84,242.30L73.16,244.12M71.84,242.30L70.52,244.12" stroke="#3c8ea9" stroke-width="1.05" stroke-linecap="round" fill="none"/>
<rect x="87.31" y="282.50" width="25.0" height="93.80" fill="#fff" stroke="#4a4a4a" stroke-width="1"/>
<line x1="99.81" y1="276.10" x2="99.81" y2="282.50" stroke="#4a4a4a" stroke-width="0.9"/>
<line x1="94.31" y1="276.10" x2="105.31" y2="276.10" stroke="#4a4a4a" stroke-width="0.9"/>
<text transform="rotate(0.06 99.81 272.90)" x="99.81" y="272.90" text-anchor="middle" font-size="6.0" font-weight="bold" fill="#93df60">0.71</text>
<text transform="rotate(0.06 99.81 331.40)" x="99.81" y="331.40" text-anchor="middle" font-size="6.0" font-weight="bold" fill="#93df60">ΔBINF</text>
<path d="M99.81,261.20L99.81,258.75M99.81,261.20L102.00,260.22M99.81,261.20L97.62,260.22M99.81,261.20L101.13,263.02M99.81,261.20L98.49,263.02" stroke="#3c8ea9" stroke-width="1.05" stroke-linecap="round" fill="none"/>
<path d="M99.81,254.30L99.81,251.85M99.81,254.30L102.00,253.32M99.81,254.30L97.62,253.32M99.81,254.30L101.13,256.12M99.81,254.30L98.49,256.12" stroke="#e8c04e" stroke-width="1.05" stroke-linecap="round" fill="none"/>
<rect x="115.28" y="321.10" width="25.0" height="55.20" fill="#fff" stroke="#4a4a4a" stroke-width="1"/>
<line x1="127.78" y1="316.90" x2="127.78" y2="321.10" stroke="#4a4a4a" stroke-width="0.9"/>
<line x1="122.28" y1="316.90" x2="133.28" y2="316.90" stroke="#4a4a4a" stroke-width="0.9"/>
<text transform="rotate(0.06 127.78 313.40)" x="127.78" y="313.40" text-anchor="middle" font-size="6.0" font-weight="bold" fill="#cb3e24">0.42</text>
<text transform="rotate(0.06 127.78 350.70)" x="127.78" y="350.70" text-anchor="middle" font-size="6.0" font-weight="bold" fill="#cb3e24">ΔLSYM</text>
<path d="M127.78,301.70L127.78,299.25M127.78,301.70L129.97,300.72M127.78,301.70L125.59,300.72M127.78,301.70L129.10,303.52M127.78,301.70L126.46,303.52" stroke="#f0934a" stroke-width="1.05" stroke-linecap="round" fill="none"/>
<path d="M127.78,294.80L127.78,292.35M127.78,294.80L129.97,293.82M127.78,294.80L125.59,293.82M127.78,294.80L129.10,296.62M127.78,294.80L126.46,296.62" stroke="#8be5c9" stroke-width="1.05" stroke-linecap="round" fill="none"/>
<rect x="143.25" y="329.30" width="25.0" height="47.00" fill="#fff" stroke="#4a4a4a" stroke-width="1"/>
<line x1="155.75" y1="316.50" x2="155.75" y2="329.30" stroke="#4a4a4a" stroke-width="0.9"/>
<line x1="150.25" y1="316.50" x2="161.25" y2="316.50" stroke="#4a4a4a" stroke-width="0.9"/>
<text transform="rotate(0.06 155.75 312.70)" x="155.75" y="312.70" text-anchor="middle" font-size="6.0" font-weight="bold" fill="#6b418a">0.35</text>
<text transform="rotate(0.06 155.75 354.80)" x="155.75" y="354.80" text-anchor="middle" font-size="6.0" font-weight="bold" fill="#6b418a">ΔPACI</text>
<path d="M155.75,301.00L155.75,298.55M155.75,301.00L157.94,300.02M155.75,301.00L153.56,300.02M155.75,301.00L157.07,302.82M155.75,301.00L154.43,302.82" stroke="#000000" stroke-width="1.05" stroke-linecap="round" fill="none"/>
<path d="M155.75,294.10L155.75,291.65M155.75,294.10L157.94,293.12M155.75,294.10L153.56,293.12M155.75,294.10L157.07,295.92M155.75,294.10L154.43,295.92" stroke="#f0934a" stroke-width="1.05" stroke-linecap="round" fill="none"/>
<path d="M155.75,287.20L155.75,284.75M155.75,287.20L157.94,286.22M155.75,287.20L153.56,286.22M155.75,287.20L157.07,289.02M155.75,287.20L154.43,289.02" stroke="#8be5c9" stroke-width="1.05" stroke-linecap="round" fill="none"/>
<rect x="171.22" y="332.70" width="25.0" height="43.60" fill="#fff" stroke="#4a4a4a" stroke-width="1"/>
<line x1="183.72" y1="329.50" x2="183.72" y2="332.70" stroke="#4a4a4a" stroke-width="0.9"/>
<line x1="178.22" y1="329.50" x2="189.22" y2="329.50" stroke="#4a4a4a" stroke-width="0.9"/>
<text transform="rotate(0.06 183.72 326.50)" x="183.72" y="326.50" text-anchor="middle" font-size="6.0" font-weight="bold" fill="#3c8ea9">0.33</text>
<text transform="rotate(0.06 183.72 356.50)" x="183.72" y="356.50" text-anchor="middle" font-size="6.0" font-weight="bold" fill="#3c8ea9">ΔBBIF</text>
<path d="M183.72,314.80L183.72,312.35M183.72,314.80L185.91,313.82M183.72,314.80L181.53,313.82M183.72,314.80L185.04,316.62M183.72,314.80L182.40,316.62" stroke="#000000" stroke-width="1.05" stroke-linecap="round" fill="none"/>
<rect x="199.19" y="347.20" width="25.0" height="29.10" fill="#fff" stroke="#4a4a4a" stroke-width="1"/>
<line x1="211.69" y1="343.30" x2="211.69" y2="347.20" stroke="#4a4a4a" stroke-width="0.9"/>
<line x1="206.19" y1="343.30" x2="217.19" y2="343.30" stroke="#4a4a4a" stroke-width="0.9"/>
<text transform="rotate(0.06 211.69 339.80)" x="211.69" y="339.80" text-anchor="middle" font-size="6.0" font-weight="bold" fill="#e8c04e">0.22</text>
<text transform="rotate(0.06 211.69 363.75)" x="211.69" y="363.75" text-anchor="middle" font-size="6.0" font-weight="bold" fill="#e8c04e">ΔBBRE</text>
<path d="M208.69,328.10L208.69,325.65M208.69,328.10L210.88,327.12M208.69,328.10L206.50,327.12M208.69,328.10L210.01,329.92M208.69,328.10L207.37,329.92" stroke="#000000" stroke-width="1.05" stroke-linecap="round" fill="none"/>
<path d="M214.69,328.10L214.69,325.65M214.69,328.10L216.88,327.12M214.69,328.10L212.50,327.12M214.69,328.10L216.01,329.92M214.69,328.10L213.37,329.92" stroke="#000000" stroke-width="1.05" stroke-linecap="round" fill="none"/>
<rect x="232.40" y="261.30" width="25.0" height="112.90" fill="#fff" stroke="#4a4a4a" stroke-width="1"/>
<line x1="244.90" y1="259.50" x2="244.90" y2="261.30" stroke="#4a4a4a" stroke-width="0.9"/>
<line x1="239.40" y1="259.50" x2="250.40" y2="259.50" stroke="#4a4a4a" stroke-width="0.9"/>
<text transform="rotate(0.06 244.90 255.10)" x="244.90" y="255.10" text-anchor="middle" font-size="6.0" font-weight="bold" fill="#000000">2.27</text>
<text transform="rotate(0.06 244.90 319.75)" x="244.90" y="319.75" text-anchor="middle" font-size="6.0" font-weight="bold" fill="#000000">ALL</text>
<rect x="260.37" y="255.30" width="25.0" height="118.90" fill="#fff" stroke="#4a4a4a" stroke-width="1"/>
<line x1="272.87" y1="251.80" x2="272.87" y2="255.30" stroke="#4a4a4a" stroke-width="0.9"/>
<line x1="267.37" y1="251.80" x2="278.37" y2="251.80" stroke="#4a4a4a" stroke-width="0.9"/>
<text transform="rotate(0.06 272.87 248.10)" x="272.87" y="248.10" text-anchor="middle" font-size="6.0" font-weight="bold" fill="#8be5c9">2.38</text>
<text transform="rotate(0.06 272.87 316.75)" x="272.87" y="316.75" text-anchor="middle" font-size="6.0" font-weight="bold" fill="#8be5c9">ΔECOL</text>
<rect x="288.34" y="266.50" width="25.0" height="107.70" fill="#fff" stroke="#4a4a4a" stroke-width="1"/>
<line x1="300.84" y1="262.50" x2="300.84" y2="266.50" stroke="#4a4a4a" stroke-width="0.9"/>
<line x1="295.34" y1="262.50" x2="306.34" y2="262.50" stroke="#4a4a4a" stroke-width="0.9"/>
<text transform="rotate(0.06 300.84 258.60)" x="300.84" y="258.60" text-anchor="middle" font-size="6.0" font-weight="bold" fill="#93df60">2.16</text>
<text transform="rotate(0.06 300.84 322.35)" x="300.84" y="322.35" text-anchor="middle" font-size="6.0" font-weight="bold" fill="#93df60">ΔBINF</text>
<rect x="316.31" y="271.30" width="25.0" height="102.90" fill="#fff" stroke="#4a4a4a" stroke-width="1"/>
<line x1="328.81" y1="269.70" x2="328.81" y2="271.30" stroke="#4a4a4a" stroke-width="0.9"/>
<line x1="323.31" y1="269.70" x2="334.31" y2="269.70" stroke="#4a4a4a" stroke-width="0.9"/>
<text transform="rotate(0.06 328.81 265.60)" x="328.81" y="265.60" text-anchor="middle" font-size="6.0" font-weight="bold" fill="#cb3e24">2.07</text>
<text transform="rotate(0.06 328.81 324.75)" x="328.81" y="324.75" text-anchor="middle" font-size="6.0" font-weight="bold" fill="#cb3e24">ΔLSYM</text>
<rect x="344.28" y="274.20" width="25.0" height="100.00" fill="#fff" stroke="#4a4a4a" stroke-width="1"/>
<line x1="356.78" y1="273.20" x2="356.78" y2="274.20" stroke="#4a4a4a" stroke-width="0.9"/>
<line x1="351.28" y1="273.20" x2="362.28" y2="273.20" stroke="#4a4a4a" stroke-width="0.9"/>
<text transform="rotate(0.06 356.78 269.10)" x="356.78" y="269.10" text-anchor="middle" font-size="6.0" font-weight="bold" fill="#f0934a">2.01</text>
<text transform="rotate(0.06 356.78 326.20)" x="356.78" y="326.20" text-anchor="middle" font-size="6.0" font-weight="bold" fill="#f0934a">ΔBTHE</text>
<rect x="372.25" y="277.40" width="25.0" height="96.80" fill="#fff" stroke="#4a4a4a" stroke-width="1"/>
<line x1="384.75" y1="274.40" x2="384.75" y2="277.40" stroke="#4a4a4a" stroke-width="0.9"/>
<line x1="379.25" y1="274.40" x2="390.25" y2="274.40" stroke="#4a4a4a" stroke-width="0.9"/>
<text transform="rotate(0.06 384.75 270.00)" x="384.75" y="270.00" text-anchor="middle" font-size="6.0" font-weight="bold" fill="#3c8ea9">1.94</text>
<text transform="rotate(0.06 384.75 327.80)" x="384.75" y="327.80" text-anchor="middle" font-size="6.0" font-weight="bold" fill="#3c8ea9">ΔBBIF</text>
<rect x="400.22" y="280.50" width="25.0" height="93.70" fill="#fff" stroke="#4a4a4a" stroke-width="1"/>
<line x1="412.72" y1="277.60" x2="412.72" y2="280.50" stroke="#4a4a4a" stroke-width="0.9"/>
<line x1="407.22" y1="277.60" x2="418.22" y2="277.60" stroke="#4a4a4a" stroke-width="0.9"/>
<text transform="rotate(0.06 412.72 273.70)" x="412.72" y="273.70" text-anchor="middle" font-size="6.0" font-weight="bold" fill="#e8c04e">1.88</text>
<text transform="rotate(0.06 412.72 329.35)" x="412.72" y="329.35" text-anchor="middle" font-size="6.0" font-weight="bold" fill="#e8c04e">ΔBBRE</text>
<rect x="428.19" y="280.50" width="25.0" height="93.70" fill="#fff" stroke="#4a4a4a" stroke-width="1"/>
<line x1="440.69" y1="274.40" x2="440.69" y2="280.50" stroke="#4a4a4a" stroke-width="0.9"/>
<line x1="435.19" y1="274.40" x2="446.19" y2="274.40" stroke="#4a4a4a" stroke-width="0.9"/>
<text transform="rotate(0.06 440.69 270.20)" x="440.69" y="270.20" text-anchor="middle" font-size="6.0" font-weight="bold" fill="#6b418a">1.88</text>
<text transform="rotate(0.06 440.69 329.35)" x="440.69" y="329.35" text-anchor="middle" font-size="6.0" font-weight="bold" fill="#6b418a">ΔPACI</text>
<rect x="461.50" y="303.40" width="25.0" height="69.80" fill="#fff" stroke="#4a4a4a" stroke-width="1"/>
<line x1="474.00" y1="302.90" x2="474.00" y2="303.40" stroke="#4a4a4a" stroke-width="0.9"/>
<line x1="468.50" y1="302.90" x2="479.50" y2="302.90" stroke="#4a4a4a" stroke-width="0.9"/>
<text transform="rotate(0.06 474.00 299.50)" x="474.00" y="299.50" text-anchor="middle" font-size="6.0" font-weight="bold" fill="#000000">7.8</text>
<text transform="rotate(0.06 474.00 340.30)" x="474.00" y="340.30" text-anchor="middle" font-size="6.0" font-weight="bold" fill="#000000">ALL</text>
<rect x="489.47" y="317.50" width="25.0" height="55.70" fill="#fff" stroke="#4a4a4a" stroke-width="1"/>
<line x1="501.97" y1="314.50" x2="501.97" y2="317.50" stroke="#4a4a4a" stroke-width="0.9"/>
<line x1="496.47" y1="314.50" x2="507.47" y2="314.50" stroke="#4a4a4a" stroke-width="0.9"/>
<text transform="rotate(0.06 501.97 311.40)" x="501.97" y="311.40" text-anchor="middle" font-size="6.0" font-weight="bold" fill="#3c8ea9">6.26</text>
<text transform="rotate(0.06 501.97 347.35)" x="501.97" y="347.35" text-anchor="middle" font-size="6.0" font-weight="bold" fill="#3c8ea9">ΔBBIF</text>
<rect x="517.44" y="311.50" width="25.0" height="61.70" fill="#fff" stroke="#4a4a4a" stroke-width="1"/>
<line x1="529.94" y1="310.80" x2="529.94" y2="311.50" stroke="#4a4a4a" stroke-width="0.9"/>
<line x1="524.44" y1="310.80" x2="535.44" y2="310.80" stroke="#4a4a4a" stroke-width="0.9"/>
<text transform="rotate(0.06 529.94 308.00)" x="529.94" y="308.00" text-anchor="middle" font-size="6.0" font-weight="bold" fill="#cb3e24">6.92</text>
<text transform="rotate(0.06 529.94 344.35)" x="529.94" y="344.35" text-anchor="middle" font-size="6.0" font-weight="bold" fill="#cb3e24">ΔLSYM</text>
<rect x="545.41" y="308.80" width="25.0" height="64.40" fill="#fff" stroke="#4a4a4a" stroke-width="1"/>
<line x1="557.91" y1="308.50" x2="557.91" y2="308.80" stroke="#4a4a4a" stroke-width="0.9"/>
<line x1="552.41" y1="308.50" x2="563.41" y2="308.50" stroke="#4a4a4a" stroke-width="0.9"/>
<text transform="rotate(0.06 557.91 305.80)" x="557.91" y="305.80" text-anchor="middle" font-size="6.0" font-weight="bold" fill="#93df60">7.18</text>
<text transform="rotate(0.06 557.91 343.00)" x="557.91" y="343.00" text-anchor="middle" font-size="6.0" font-weight="bold" fill="#93df60">ΔBINF</text>
<rect x="573.38" y="308.80" width="25.0" height="64.40" fill="#fff" stroke="#4a4a4a" stroke-width="1"/>
<line x1="585.88" y1="306.40" x2="585.88" y2="308.80" stroke="#4a4a4a" stroke-width="0.9"/>
<line x1="580.38" y1="306.40" x2="591.38" y2="306.40" stroke="#4a4a4a" stroke-width="0.9"/>
<text transform="rotate(0.06 585.88 303.40)" x="585.88" y="303.40" text-anchor="middle" font-size="6.0" font-weight="bold" fill="#e8c04e">7.21</text>
<text transform="rotate(0.06 585.88 343.00)" x="585.88" y="343.00" text-anchor="middle" font-size="6.0" font-weight="bold" fill="#e8c04e">ΔBBRE</text>
<rect x="601.35" y="307.30" width="25.0" height="65.90" fill="#fff" stroke="#4a4a4a" stroke-width="1"/>
<line x1="613.85" y1="306.90" x2="613.85" y2="307.30" stroke="#4a4a4a" stroke-width="0.9"/>
<line x1="608.35" y1="306.90" x2="619.35" y2="306.90" stroke="#4a4a4a" stroke-width="0.9"/>
<text transform="rotate(0.06 613.85 303.80)" x="613.85" y="303.80" text-anchor="middle" font-size="6.0" font-weight="bold" fill="#f0934a">7.36</text>
<text transform="rotate(0.06 613.85 342.25)" x="613.85" y="342.25" text-anchor="middle" font-size="6.0" font-weight="bold" fill="#f0934a">ΔBTHE</text>
<rect x="629.32" y="306.20" width="25.0" height="67.00" fill="#fff" stroke="#4a4a4a" stroke-width="1"/>
<line x1="641.82" y1="305.60" x2="641.82" y2="306.20" stroke="#4a4a4a" stroke-width="0.9"/>
<line x1="636.32" y1="305.60" x2="647.32" y2="305.60" stroke="#4a4a4a" stroke-width="0.9"/>
<text transform="rotate(0.06 641.82 302.70)" x="641.82" y="302.70" text-anchor="middle" font-size="6.0" font-weight="bold" fill="#8be5c9">7.49</text>
<text transform="rotate(0.06 641.82 341.70)" x="641.82" y="341.70" text-anchor="middle" font-size="6.0" font-weight="bold" fill="#8be5c9">ΔECOL</text>
<rect x="657.29" y="284.30" width="25.0" height="88.90" fill="#fff" stroke="#4a4a4a" stroke-width="1"/>
<line x1="669.79" y1="277.40" x2="669.79" y2="284.30" stroke="#4a4a4a" stroke-width="0.9"/>
<line x1="664.29" y1="277.40" x2="675.29" y2="277.40" stroke="#4a4a4a" stroke-width="0.9"/>
<text transform="rotate(0.06 669.79 274.80)" x="669.79" y="274.80" text-anchor="middle" font-size="6.0" font-weight="bold" fill="#6b418a">9.87</text>
<text transform="rotate(0.06 669.79 330.75)" x="669.79" y="330.75" text-anchor="middle" font-size="6.0" font-weight="bold" fill="#6b418a">ΔPACI</text>
<path d="M666.79,263.10L666.79,260.65M666.79,263.10L668.98,262.12M666.79,263.10L664.60,262.12M666.79,263.10L668.11,264.92M666.79,263.10L665.47,264.92" stroke="#3c8ea9" stroke-width="1.05" stroke-linecap="round" fill="none"/>
<path d="M672.79,263.10L672.79,260.65M672.79,263.10L674.98,262.12M672.79,263.10L670.60,262.12M672.79,263.10L674.11,264.92M672.79,263.10L671.47,264.92" stroke="#3c8ea9" stroke-width="1.05" stroke-linecap="round" fill="none"/>
<path d="M669.79,256.20L669.79,253.75M669.79,256.20L671.98,255.22M669.79,256.20L667.60,255.22M669.79,256.20L671.11,258.02M669.79,256.20L668.47,258.02" stroke="#e8c04e" stroke-width="1.05" stroke-linecap="round" fill="none"/>
<path d="M669.79,249.30L669.79,246.85M669.79,249.30L671.98,248.32M669.79,249.30L667.60,248.32M669.79,249.30L671.11,251.12M669.79,249.30L668.47,251.12" stroke="#93df60" stroke-width="1.05" stroke-linecap="round" fill="none"/>
<path d="M669.79,242.40L669.79,239.95M669.79,242.40L671.98,241.42M669.79,242.40L667.60,241.42M669.79,242.40L671.11,244.22M669.79,242.40L668.47,244.22" stroke="#cb3e24" stroke-width="1.05" stroke-linecap="round" fill="none"/>
<text transform="rotate(0.06 105.4 390.4)" x="105.4" y="390.4" font-size="7.6" fill="#1a1a1a">μ<tspan font-size="6.1" dy="1.3" x="110.6">max</tspan></text>
<text transform="rotate(0.06 323.6 390.0)" x="323.6" y="390.0" font-size="8.75" fill="#1a1a1a">OD600<tspan font-size="5.9" dy="1.7">max</tspan></text>
<text transform="rotate(0.06 565.6 389.2)" x="565.6" y="389.2" font-size="8.5" fill="#1a1a1a">T<tspan font-size="6" dy="1.5">lag</tspan></text>
</svg></body></html>
